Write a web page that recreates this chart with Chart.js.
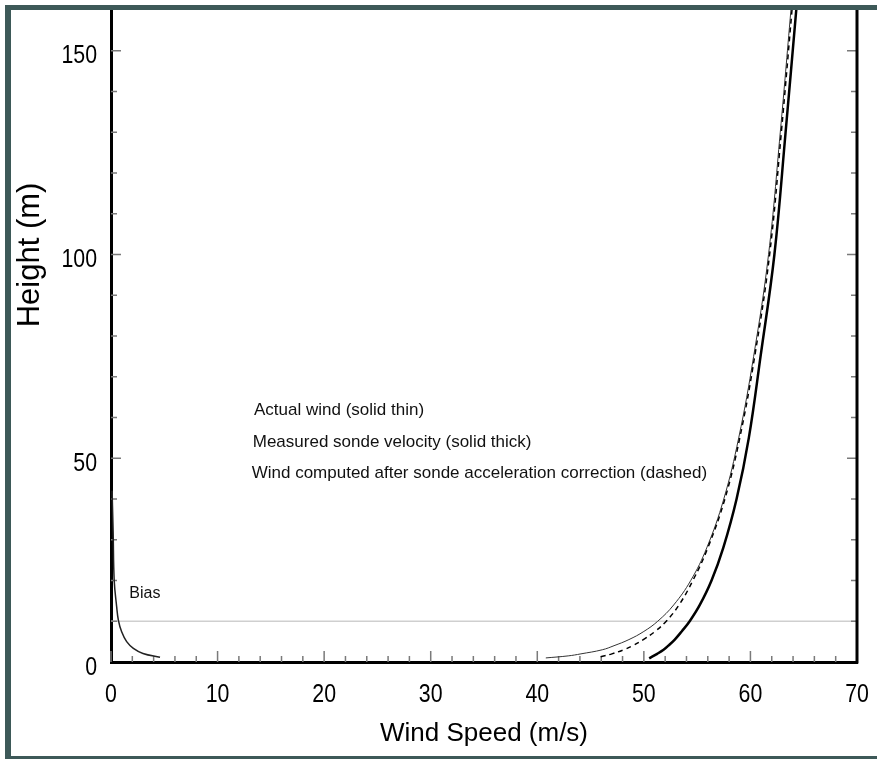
<!DOCTYPE html>
<html>
<head>
<meta charset="utf-8">
<script src="https://cdn.jsdelivr.net/npm/chart.js@4.4.1/dist/chart.umd.min.js"></script>
<style>
  html, body { margin: 0; padding: 0; background: #fff; }
  #wrap { position: relative; width: 877px; height: 759px; overflow: hidden; }
  #windChart { display: block; }
  #frame {
    position: absolute; left: 5px; top: 5px; width: 900px; height: 754px; box-sizing: border-box;
    border-left: 6px solid #3d5958; border-top: 5px solid #3d5958; border-bottom: 3px solid #3d5958;
    pointer-events: none;
  }
</style>
</head>
<body>
<div id="wrap">
  <canvas id="windChart" width="877" height="759"></canvas>
  <div id="frame"></div>
</div>
<script>
// tick labels
const xTickLabels = [0, 10, 20, 30, 40, 50, 60, 70];
const yTickLabels = [0, 50, 100, 150];

// actual wind (solid thin)
const actualHeight = [1, 1.5, 2, 3, 4, 5.5, 7.5, 10, 14, 20, 28, 40, 55, 75, 100, 130, 160];
const actualSpeed  = [40.8, 42.9, 44.1, 46.1, 47.2, 48.6, 50.0, 51.3, 52.8, 54.4, 55.9, 57.5, 58.9, 60.3, 61.7, 62.8, 63.8];

// measured sonde velocity (solid thick)
const measuredHeight = [0.9, 2, 3, 4, 5.5, 7.5, 10, 14, 20, 28, 40, 55, 75, 100, 130, 160];
const measuredSpeed  = [50.5, 51.25, 51.85, 52.3, 52.9, 53.55, 54.3, 55.25, 56.35, 57.45, 58.7, 59.85, 60.95, 62.25, 63.3, 64.3];

// corrected wind (dashed)
const correctedHeight = [1.3, 2, 3, 4, 5.5, 7.5, 10, 14, 20, 28, 40, 55, 75, 100, 130, 160];
const correctedSpeed  = [45.95, 47.0, 48.1, 48.95, 49.95, 51.05, 52.1, 53.3, 54.6, 56.0, 57.6, 59.0, 60.4, 61.8, 62.9, 63.9];

// bias curve near the axis
const biasHeight = [1.15, 2.1, 3.35, 5.0, 7.4, 10.3, 13.6, 20, 32, 42];
const biasSpeed  = [4.6, 3.0, 2.1, 1.47, 1.0, 0.69, 0.53, 0.3, 0.2, 0.1];

const biasLevel = 10;

const notes = [
  {text: 'Actual wind (solid thin)', x: 13.42, y: 61.8, size: 17},
  {text: 'Measured sonde velocity (solid thick)', x: 13.3, y: 54.0, size: 17},
  {text: 'Wind computed after sonde acceleration correction (dashed)', x: 13.2, y: 46.3, size: 17},
  {text: 'Bias', x: 1.72, y: 16.8, size: 16}
];

const toPoints = (xs, ys) => xs.map((v, i) => ({x: v, y: ys[i]}));

const sansFont = "'Liberation Sans', Arial, sans-serif";

// narrow digits, like the original's condensed tick font
function narrowText(ctx, text, px, py, align) {
  ctx.save();
  ctx.translate(px, py);
  ctx.scale(0.82, 1);
  ctx.textAlign = align;
  ctx.fillText(text, 0, 0);
  ctx.restore();
}

const frameBits = {
  id: 'frameBits',
  beforeDatasetsDraw(chart) {
    const {ctx, chartArea: a, scales: {x, y}} = chart;
    ctx.save();
    // bias level line
    const yb = y.getPixelForValue(biasLevel);
    ctx.strokeStyle = '#cfcfcf';
    ctx.lineWidth = 1.5;
    ctx.beginPath();
    ctx.moveTo(a.left, yb);
    ctx.lineTo(a.right, yb);
    ctx.stroke();

    // inward ticks
    ctx.strokeStyle = '#7a7a7a';
    ctx.lineWidth = 1.5;
    ctx.beginPath();
    for (let v = 0; v <= 70; v += 2) {
      const px = x.getPixelForValue(v);
      const len = v % 10 === 0 ? 11 : 6;
      ctx.moveTo(px, a.bottom);
      ctx.lineTo(px, a.bottom - len);
    }
    for (let v = 10; v <= 150; v += 10) {
      const py = y.getPixelForValue(v);
      const len = v % 50 === 0 ? 10 : 6;
      ctx.moveTo(a.left, py);
      ctx.lineTo(a.left + len, py);
      ctx.moveTo(a.right, py);
      ctx.lineTo(a.right - len, py);
    }
    ctx.stroke();
    ctx.restore();
  },
  afterDraw(chart) {
    const {ctx, chartArea: a, scales: {x, y}} = chart;
    ctx.save();
    // right axis line
    ctx.strokeStyle = '#000';
    ctx.lineWidth = 3;
    ctx.beginPath();
    ctx.moveTo(a.right, a.top);
    ctx.lineTo(a.right, a.bottom + 1.5);
    ctx.stroke();

    // tick labels
    ctx.fillStyle = '#000';
    ctx.font = '26px ' + sansFont;
    ctx.textBaseline = 'alphabetic';
    xTickLabels.forEach(v => narrowText(ctx, String(v), x.getPixelForValue(v), a.bottom + 40, 'center'));
    yTickLabels.forEach(v => narrowText(ctx, String(v), a.left - 14, y.getPixelForValue(v) + 12.5, 'right'));

    // y title
    ctx.font = '31px ' + sansFont;
    ctx.textAlign = 'center';
    ctx.textBaseline = 'middle';
    ctx.translate(30, 255);
    ctx.rotate(-Math.PI / 2);
    ctx.fillText('Height (m)', 0, 0);
    ctx.setTransform(1, 0, 0, 1, 0, 0);

    // annotations
    ctx.textAlign = 'left';
    ctx.fillStyle = '#111';
    notes.forEach(n => {
      ctx.font = n.size + 'px ' + sansFont;
      ctx.fillText(n.text, x.getPixelForValue(n.x), y.getPixelForValue(n.y));
    });
    ctx.restore();
  }
};

function noPad(s) {
  s.paddingTop = 0;
  s.paddingBottom = 0;
  s.paddingLeft = 0;
  s.paddingRight = 0;
}

const ctx = document.getElementById('windChart').getContext('2d');
new Chart(ctx, {
  type: 'line',
  data: {
    datasets: [
      {
        label: 'Wind computed after sonde acceleration correction',
        data: toPoints(correctedSpeed, correctedHeight),
        borderColor: '#000',
        borderWidth: 1.5,
        borderDash: [5, 4],
        tension: 0.4,
        pointRadius: 0,
        fill: false,
        order: 0
      },
      {
        label: 'Actual wind',
        data: toPoints(actualSpeed, actualHeight),
        borderColor: '#333',
        borderWidth: 1,
        tension: 0.4,
        pointRadius: 0,
        fill: false,
        order: 1
      },
      {
        label: 'Measured sonde velocity',
        data: toPoints(measuredSpeed, measuredHeight),
        borderColor: '#000',
        borderWidth: 2.5,
        tension: 0.4,
        pointRadius: 0,
        fill: false,
        order: 2
      },
      {
        label: 'Bias',
        data: toPoints(biasSpeed, biasHeight),
        borderColor: '#222',
        borderWidth: 1.5,
        tension: 0.4,
        pointRadius: 0,
        fill: false,
        order: 3
      }
    ]
  },
  options: {
    responsive: false,
    animation: false,
    layout: {padding: {left: 0, right: 20, top: 10, bottom: 0}},
    plugins: {
      legend: {display: false},
      tooltip: {enabled: false}
    },
    scales: {
      x: {
        type: 'linear',
        position: 'bottom',
        min: 0,
        max: 70,
        afterFit: s => { s.height = 97; noPad(s); },
        grid: {display: true, drawOnChartArea: false, drawTicks: false},
        border: {display: true, color: '#000', width: 3},
        ticks: {display: false},
        title: {
          display: true,
          text: 'Wind Speed (m/s)',
          color: '#000',
          font: {family: sansFont, size: 26},
          padding: {top: 0, bottom: 10}
        }
      },
      y: {
        type: 'linear',
        position: 'left',
        min: 0,
        max: 160,
        afterFit: s => { s.width = 111; noPad(s); },
        grid: {display: true, drawOnChartArea: false, drawTicks: false},
        border: {display: true, color: '#000', width: 3},
        ticks: {display: false}
      }
    }
  },
  plugins: [frameBits]
});
</script>
</body>
</html>
